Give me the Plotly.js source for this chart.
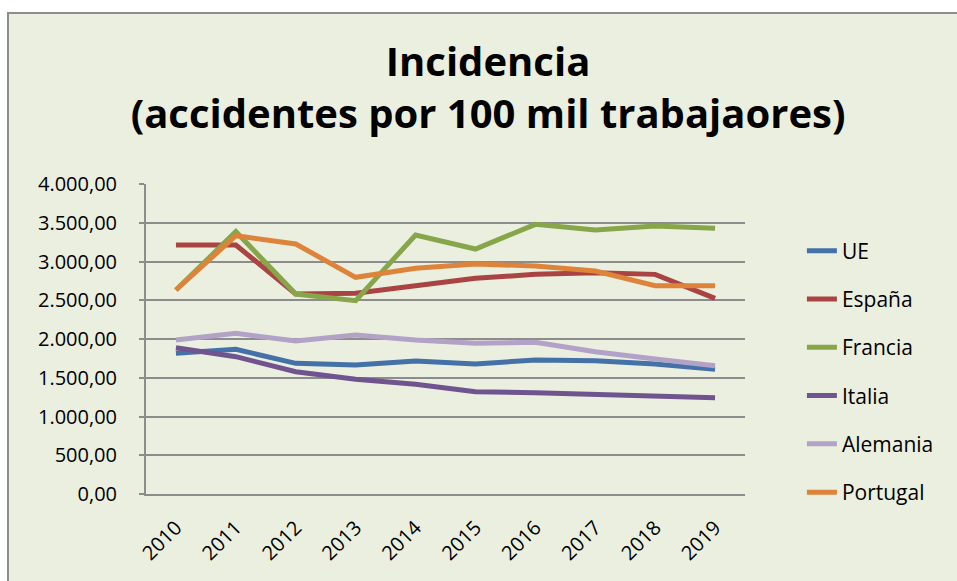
<!DOCTYPE html>
<html>
<head>
<meta charset="utf-8">
<script src="https://cdn.plot.ly/plotly-3.0.1.min.js"></script>
<style>html,body{margin:0;padding:0;background:#ffffff;}#chart{width:957px;height:581px;}</style>
</head>
<body>
<div id="chart"></div>
<script>
var years = ['2010','2011','2012','2013','2014','2015','2016','2017','2018','2019'];
var seriesNames = ['UE','España','Francia','Italia','Alemania','Portugal'];
var ue       = [1815, 1867, 1686, 1665, 1716, 1677, 1729, 1720, 1677, 1609];
var espana   = [3213, 3213, 2580, 2589, 2688, 2783, 2834, 2856, 2834, 2525];
var francia  = [2632, 3385, 2580, 2495, 3342, 3161, 3479, 3406, 3458, 3428];
var italia   = [1888, 1772, 1578, 1480, 1415, 1320, 1307, 1286, 1264, 1243];
var alemania = [1987, 2073, 1974, 2052, 1987, 1944, 1957, 1836, 1742, 1656];
var portugal = [2632, 3333, 3226, 2796, 2912, 2968, 2942, 2877, 2688, 2688];
var yTicks = [0, 500, 1000, 1500, 2000, 2500, 3000, 3500, 4000];

var values = [ue, espana, francia, italia, alemania, portugal];
var colors = ['#4371A8', '#A94442', '#87A64A', '#6F5490', '#B3A2C7', '#DE843A'];

var traces = seriesNames.map(function (name, i) {
  return {
    type: 'scatter', mode: 'lines', name: name, x: years, y: values[i],
    legendgroup: 'g' + i,
    line: {color: colors[i], width: 5, shape: 'linear'},
    hoverinfo: 'skip'
  };
});

var font = '"Open Sans", Lato, "Liberation Sans", sans-serif';
var layout = {
  width: 957, height: 581,
  separators: ',.',
  paper_bgcolor: '#ffffff',
  plot_bgcolor: '#ffffff',
  margin: {l: 146, r: 212, t: 184, b: 87, pad: 0},
  font: {family: font, size: 21, color: '#000000'},
  title: {
    text: '<b>Incidencia<br>(accidentes por 100 mil trabajaores)</b>',
    font: {family: font, size: 40, color: '#000000'},
    x: 0.51, xref: 'container', xanchor: 'center',
    y: 0.87, yref: 'container', yanchor: 'top'
  },
  xaxis: {
    type: 'category', range: [-0.5, 9.5], tickangle: -45, showgrid: false,
    showline: true, linecolor: '#8C8C8C', linewidth: 2,
    ticks: '', tickfont: {family: font, size: 20},
    ticklabelstandoff: 12,
    fixedrange: true
  },
  yaxis: {
    range: [0, 4000], tickvals: yTicks, tickformat: ',.2f',
    showgrid: true, gridcolor: '#8C8C8C', gridwidth: 2,
    showline: true, linecolor: '#8C8C8C', linewidth: 2,
    ticks: 'outside', ticklen: 5, tickcolor: '#8C8C8C', tickwidth: 2,
    ticklabelstandoff: 18,
    zeroline: false, tickfont: {family: font, size: 20},
    fixedrange: true
  },
  showlegend: true,
  legend: {
    x: 1.095, xanchor: 'left', y: 0.85, yanchor: 'top',
    traceorder: 'grouped', tracegroupgap: 18,
    bgcolor: 'rgba(0,0,0,0)', font: {family: font, size: 21}
  },
  shapes: [{
    type: 'rect', xref: 'paper', yref: 'paper', layer: 'below',
    x0: -0.2304, x1: 1.37, y0: -0.32, y1: 1.5516,
    fillcolor: '#EBEFDF', line: {color: '#8C8C8C', width: 2}
  }]
};

Plotly.newPlot('chart', traces, layout, {displayModeBar: false, staticPlot: true});
</script>
</body>
</html>
